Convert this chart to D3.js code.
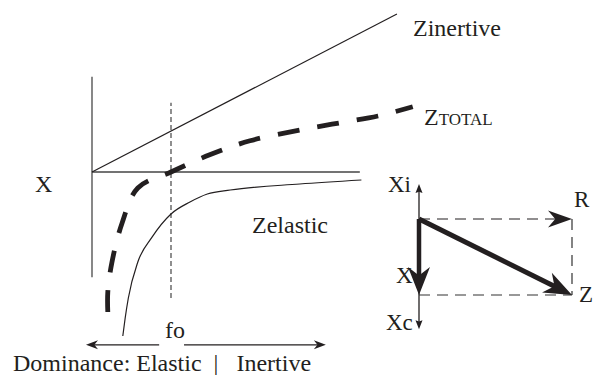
<!DOCTYPE html>
<html><head><meta charset="utf-8">
<script src="https://cdn.jsdelivr.net/npm/d3@7"></script>
<style>
body{margin:0;background:#fff}
svg{display:block}
</style></head><body>
<svg id="c" width="595" height="375"></svg>
<script>
// ---- impedance vs frequency (f / fo, reactance units) ----
const zInertive = [[0, 0], [3.86, 3.95]];
const zTotal = [[0.20,-3.50],[0.20,-3.00],[0.25,-2.28],[0.38,-1.28],[0.58,-0.40],[1.00,0.00],
                [1.49,0.43],[2.00,0.78],[2.63,1.05],[3.14,1.23],[3.62,1.40],[4.06,1.63]];
const zElastic = [[0.39,-4.10],[0.42,-3.65],[0.46,-3.15],[0.58,-2.25],[0.76,-1.63],[1.00,-1.05],
                  [1.24,-0.75],[1.46,-0.55],[1.75,-0.45],[2.63,-0.30],[3.41,-0.20]];
const xAxisExtent = [0, 3.39];          // horizontal reactance = 0 line
const yAxisExtent = [-2.63, 2.38];      // vertical axis
const fo = 1;
const foExtent = [-3.15, 1.73];
const domArrowY = -4.32;
const domLeft = [0.85, -0.076];         // from -> tip
const domRight = [1.165, 2.96];
// ---- phasor diagram ----
const R = 2, Xnet = -1, XiMax = 0.46, XcMin = -1.45;
// ---- labels ----
const labels = {
  inertive: "Zinertive", elastic: "Zelastic", x: "X", fo: "fo",
  dominance: "Dominance: Elastic  |   Inertive",
  xi: "Xi", xc: "Xc", r: "R", z: "Z", xv: "X"
};

const FONT = "'Liberation Serif', 'Times New Roman', Times, 'DejaVu Serif', serif";
const svg = d3.select("#c");
const x = d3.scaleLinear().domain([0, 4]).range([92, 408]);
const y = d3.scaleLinear().domain([-4, 4]).range([332, 12]);
const line = d3.line().x(d => x(d[0])).y(d => y(d[1]));

const ink = "#231f20";

// axes
svg.append("line").attr("x1", x(0)).attr("x2", x(0)).attr("y1", y(yAxisExtent[0])).attr("y2", y(yAxisExtent[1]))
  .attr("stroke", "#555").attr("stroke-width", 1.4);
svg.append("line").attr("x1", x(xAxisExtent[0])).attr("x2", x(xAxisExtent[1])).attr("y1", y(0)).attr("y2", y(0))
  .attr("stroke", "#444").attr("stroke-width", 1.4);
// fo dashed
svg.append("line").attr("x1", x(fo)).attr("x2", x(fo)).attr("y1", y(foExtent[0])).attr("y2", y(foExtent[1]))
  .attr("stroke", "#333").attr("stroke-width", 1.1).attr("stroke-dasharray", "5,3");

// curves
svg.append("path").datum(zInertive).attr("d", line).attr("fill", "none").attr("stroke", ink).attr("stroke-width", 1.2);
svg.append("path").datum(zElastic).attr("d", line.curve(d3.curveMonotoneX)).attr("fill", "none")
  .attr("stroke", ink).attr("stroke-width", 1.2);
svg.append("path").datum(zTotal).attr("d", d3.line().x(d => x(d[0])).y(d => y(d[1])).curve(d3.curveCatmullRom.alpha(0.5)))
  .attr("fill", "none").attr("stroke", ink).attr("stroke-width", 4.8).attr("stroke-dasharray", "22,18");

// arrow helper
function arrow(g, x1, y1, x2, y2, o) {
  const a = Math.atan2(y2 - y1, x2 - x1), c = Math.cos(a), s = Math.sin(a);
  const P = (u, v) => [x2 + u * c - v * s, y2 + u * s + v * c];
  const e = P(-o.L * o.n * 0.95, 0);
  g.append("line").attr("x1", x1).attr("y1", y1).attr("x2", e[0]).attr("y2", e[1])
    .attr("stroke", o.color || ink).attr("stroke-width", o.sw).attr("stroke-dasharray", o.dash || null);
  const pts = [P(0, 0), P(-o.L, -o.W), P(-o.L * o.n, 0), P(-o.L, o.W)];
  g.append("path").attr("d", "M" + pts.map(p => p.join(",")).join("L") + "Z").attr("fill", o.color || ink);
}

// dominance arrows
arrow(svg, x(domLeft[0]), y(domArrowY), x(domLeft[1]), y(domArrowY), {L: 12, W: 4.5, n: 0.7, sw: 1.3});
arrow(svg, x(domRight[0]), y(domArrowY), x(domRight[1]), y(domArrowY), {L: 12, W: 4.5, n: 0.7, sw: 1.3});

// phasor diagram
const px = d3.scaleLinear().domain([0, R]).range([419, 572]);
const py = d3.scaleLinear().domain([0, Xnet]).range([219, 295]);
const pg = svg.append("g");
arrow(pg, px(0), py(0), px(0), py(XiMax), {L: 9, W: 3.5, n: 0.85, sw: 1.3});
arrow(pg, px(0), py(Xnet), px(0), py(XcMin), {L: 9, W: 3.5, n: 0.85, sw: 1.3});
pg.append("line").attr("x1", px(0)).attr("x2", px(0)).attr("y1", py(0)).attr("y2", py(Xnet)).attr("stroke", ink).attr("stroke-width", 1.3);
// dashed rectangle
pg.append("line").attr("x1", px(0)).attr("x2", px(R)).attr("y1", py(Xnet)).attr("y2", py(Xnet))
  .attr("stroke", "#333").attr("stroke-width", 1.2).attr("stroke-dasharray", "11,7");
pg.append("line").attr("x1", px(R)).attr("x2", px(R)).attr("y1", py(0)).attr("y2", py(Xnet))
  .attr("stroke", "#333").attr("stroke-width", 1.2).attr("stroke-dasharray", "11,7");
arrow(pg, px(0), py(0), px(R), py(0), {L: 24, W: 8.5, n: 0.7, sw: 1.2, dash: "11,7"});
// X and Z vectors
arrow(pg, px(0), py(0), px(0), py(Xnet), {L: 28, W: 11, n: 0.7, sw: 4.5});
arrow(pg, px(0), py(0), px(R), py(Xnet), {L: 28, W: 11, n: 0.7, sw: 5});

// labels
const T = (t, xx, yy, fs) => svg.append("text").attr("x", xx).attr("y", yy).attr("font-size", fs)
  .attr("font-family", FONT).style("font-family", FONT).attr("fill", ink)
  .attr("xml:space", "preserve").style("white-space", "pre").text(t);
T(labels.inertive, 413, 36, 24);
const zt = T("", 424, 125, 24);
zt.append("tspan").text("Z");
zt.append("tspan").attr("font-size", 17).text("TOTAL");
T(labels.x, 35, 192, 24);
T(labels.elastic, 252, 233, 24);
T(labels.fo, 165, 338, 24);
T(labels.dominance, 13, 371, 24);
T(labels.xi, 388, 192, 23);
T(labels.r, 574, 207, 23);
T(labels.xv, 396, 283, 23);
T(labels.z, 579, 302, 23);
T(labels.xc, 386, 330, 23);
</script>
</body></html>
